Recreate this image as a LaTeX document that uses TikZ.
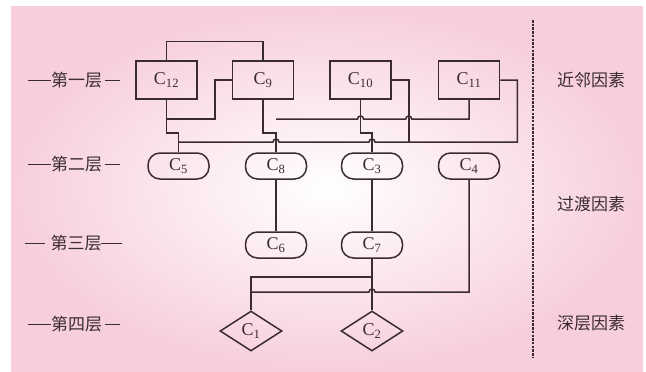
\documentclass[tikz,border=0pt]{standalone}
\usepackage{fontspec}
\setmainfont{Liberation Serif}
\newfontfamily\cjk{Noto Sans CJK SC}
\usetikzlibrary{shapes.geometric,calc}
\definecolor{bgpink}{RGB}{247,206,222}
\definecolor{ink}{RGB}{58,44,46}
\tikzstyle{nearfac} = [rectangle, draw=ink, minimum width=61pt, minimum height=38pt, inner sep=0pt, font=\fontsize{18}{20}\selectfont]
\tikzstyle{passfac} = [rectangle, rounded corners=12pt, draw=ink, minimum width=61pt, minimum height=26pt, inner sep=0pt, font=\fontsize{18}{20}\selectfont]
\tikzstyle{deepfac} = [diamond, aspect=1.55, draw=ink, minimum width=62pt, minimum height=40pt, inner sep=0pt, font=\fontsize{18}{20}\selectfont]
\tikzstyle{layer} = [font=\cjk\fontsize{17}{20}\selectfont, inner sep=0pt]
\newcommand{\fc}[1]{C\textsubscript{#1}}
\newcommand{\dash}[1]{\rule[0.32em]{#1}{1.3pt}}
\newcommand{\hopr}{arc[start angle=180, end angle=360, radius=3]}

\begin{document}
\begin{tikzpicture}[x=1pt, y=-1pt, line width=1.5pt, color=ink]%
	\useasboundingbox (0,0) rectangle (646,372);%
	\shade[inner color=white, outer color=bgpink] (11,6) rectangle (643,372);%
	% factors
	\node [nearfac] (c12) at (166.5,80) {\fc{12}};
	\node [nearfac] (c9) at (263,80) {\fc{9}};
	\node [nearfac] (c10) at (360.5,80) {\fc{10}};
	\node [nearfac] (c11) at (469,80) {\fc{11}};
	\node [passfac] (c5) at (178.5,166) {\fc{5}};
	\node [passfac] (c8) at (276,166) {\fc{8}};
	\node [passfac] (c3) at (372,166) {\fc{3}};
	\node [passfac] (c4) at (469,166) {\fc{4}};
	\node [passfac] (c6) at (276,245) {\fc{6}};
	\node [passfac] (c7) at (372,245) {\fc{7}};
	\node [deepfac] (c1) at (251,331) {\fc{1}};
	\node [deepfac] (c2) at (372,331) {\fc{2}};
	% layer names
	\node [layer] (l1) at (74,80) {\dash{23pt}第一层\hspace{3pt}\dash{15pt}};
	\node [layer] (l2) at (74,164) {\dash{23pt}第二层\hspace{3pt}\dash{15pt}};
	\node [layer] (l3) at (73,243) {\dash{20pt}\hspace{6pt}第三层\dash{20pt}};
	\node [layer] (l4) at (74,324) {\dash{23pt}第四层\hspace{3pt}\dash{15pt}};
	\node [layer] (r1) at (591,80) {近邻因素};
	\node [layer] (r2) at (591,204) {过渡因素};
	\node [layer] (r3) at (591,323) {深层因素};
	\coordinate (sepA) at (533,20);
	\coordinate (sepB) at (533,358);
	\draw [line width=1.7pt, dash pattern=on 2.5pt off 1.2pt] (sepA) -- (sepB);
	% bus levels
	\coordinate (b1) at (0,119);
	\coordinate (b2) at (0,133);
	\coordinate (b3) at (0,142);
	\coordinate (b4) at (0,277);
	\coordinate (b5) at (0,292);
	\coordinate (k10) at ($(c10.east)+(17,0)$);
	\coordinate (k11) at ($(c11.east)+(17,0)$);
	% first layer links
	\draw (c12.north) -- ++(0,-19) -| (c9.north);
	\draw (c9.west) -- ++(-17,0) |- (c12.south |- b1);
	\draw (c12.south) -- (c12.south |- b2) -| (c5.north);
	\draw (c9.south) |- (c8.north |- b2) -- (c8.north);
	\draw (c10.south) |- (c3.north |- b2) -- (c3.north);
	\draw (c10.east) -- (k10) -- (k10 |- b3);
	\draw (c8.north |- b1) -- ($(c10.south |- b1)+(-3,0)$) \hopr
		-- ($(k10 |- b1)+(-3,0)$) \hopr -| (c11.south);
	\draw (c5.north |- b3) -- ($(c8.north |- b3)+(-3,0)$) \hopr
		-- ($(c3.north |- b3)+(-3,0)$) \hopr -- (k11 |- b3) |- (c11.east);
	% lower layers
	\draw (c8.south) -- (c6.north);
	\draw (c3.south) -- (c7.north);
	\draw (c7.south) -- (c2.north);
	\draw (c7.south |- b4) -| (c1.north);
	\draw (c1.north |- b5) -- ($(c2.north |- b5)+(-3,0)$) \hopr -| (c4.south);
\end{tikzpicture}
\end{document}
